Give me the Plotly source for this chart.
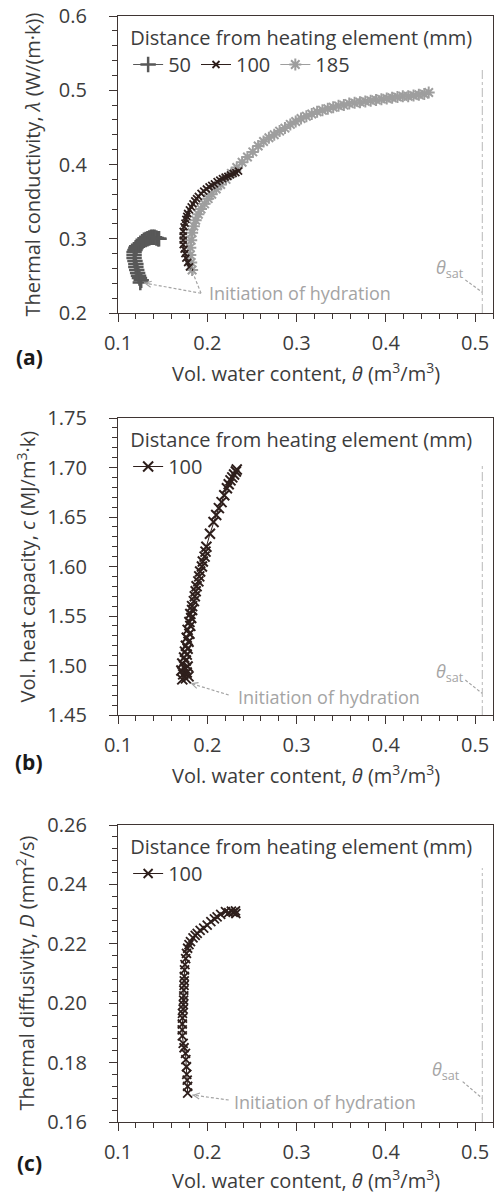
import plotly.graph_objects as go

# ---------------- data ----------------
# (a) thermal conductivity vs volumetric water content
theta_50 = [0.125, 0.126, 0.124, 0.123, 0.122, 0.121, 0.120, 0.120, 0.119, 0.118, 0.118, 0.118,
            0.119, 0.120, 0.121, 0.123, 0.125, 0.127, 0.129, 0.131, 0.133, 0.135, 0.137, 0.139,
            0.141, 0.143, 0.145, 0.146]
lam_50 = [0.241, 0.244, 0.247, 0.250, 0.254, 0.258, 0.262, 0.266, 0.270, 0.274, 0.278, 0.282,
          0.285, 0.288, 0.290, 0.292, 0.294, 0.296, 0.298, 0.299, 0.300, 0.301, 0.302, 0.302,
          0.302, 0.301, 0.300, 0.300]

theta_100a = [0.180, 0.178, 0.176, 0.175, 0.174, 0.173, 0.173, 0.173, 0.173, 0.174, 0.175, 0.176,
              0.177, 0.178, 0.180, 0.182, 0.184, 0.186, 0.188, 0.190, 0.193, 0.196, 0.199, 0.202,
              0.205, 0.208, 0.211, 0.214, 0.217, 0.220, 0.223, 0.226, 0.229, 0.232, 0.235]
lam_100a = [0.262, 0.268, 0.274, 0.280, 0.286, 0.292, 0.298, 0.304, 0.310, 0.316, 0.321, 0.326,
            0.330, 0.334, 0.339, 0.343, 0.347, 0.351, 0.354, 0.357, 0.361, 0.364, 0.367, 0.370,
            0.372, 0.374, 0.377, 0.379, 0.381, 0.383, 0.384, 0.386, 0.388, 0.389, 0.391]

theta_185 = [0.183, 0.182, 0.181, 0.181, 0.182, 0.183, 0.185, 0.187, 0.190, 0.193, 0.197, 0.201,
             0.205, 0.210, 0.215, 0.221, 0.227, 0.233, 0.239, 0.245, 0.251, 0.257, 0.263, 0.269,
             0.275, 0.281, 0.287, 0.293, 0.299, 0.305, 0.311, 0.317, 0.323, 0.329, 0.335, 0.341,
             0.347, 0.353, 0.359, 0.365, 0.371, 0.377, 0.383, 0.389, 0.395, 0.401, 0.407, 0.413,
             0.419, 0.425, 0.431, 0.437, 0.443, 0.448]
lam_185 = [0.258, 0.268, 0.278, 0.288, 0.298, 0.308, 0.317, 0.325, 0.333, 0.340, 0.347, 0.354,
           0.360, 0.367, 0.373, 0.380, 0.388, 0.396, 0.403, 0.410, 0.417, 0.425, 0.431, 0.436,
           0.440, 0.445, 0.449, 0.454, 0.458, 0.462, 0.465, 0.468, 0.471, 0.473, 0.475, 0.477,
           0.479, 0.480, 0.482, 0.483, 0.484, 0.485, 0.486, 0.487, 0.488, 0.489, 0.490, 0.491,
           0.492, 0.492, 0.493, 0.494, 0.495, 0.497]

# (b) volumetric heat capacity, 100 mm
theta_100b = [0.172, 0.176, 0.179, 0.173, 0.177, 0.171, 0.175, 0.178, 0.172, 0.176, 0.174, 0.177,
              0.175, 0.178, 0.176, 0.179, 0.177, 0.180, 0.178, 0.181, 0.180, 0.182, 0.181, 0.183,
              0.183, 0.185, 0.186, 0.187, 0.188, 0.190, 0.191, 0.192, 0.194, 0.195, 0.197, 0.198,
              0.199, 0.203, 0.207, 0.210, 0.213, 0.216, 0.219, 0.222, 0.224, 0.226, 0.228, 0.230,
              0.232, 0.233]
cap_100b = [1.486, 1.487, 1.489, 1.491, 1.493, 1.495, 1.497, 1.499, 1.502, 1.505, 1.508, 1.511,
            1.514, 1.517, 1.520, 1.524, 1.528, 1.532, 1.536, 1.540, 1.544, 1.548, 1.552, 1.556,
            1.560, 1.565, 1.570, 1.575, 1.580, 1.585, 1.590, 1.595, 1.600, 1.605, 1.610, 1.615,
            1.620, 1.633, 1.645, 1.652, 1.659, 1.665, 1.672, 1.679, 1.683, 1.687, 1.690, 1.693,
            1.696, 1.698]

# (c) thermal diffusivity, 100 mm
theta_100c = [0.178, 0.178, 0.1775, 0.177, 0.1767, 0.176, 0.1756, 0.174, 0.173, 0.172, 0.1719,
              0.172, 0.1722, 0.1722, 0.173, 0.1732, 0.1735, 0.1737, 0.1737, 0.174, 0.1742, 0.1743,
              0.1745, 0.175, 0.1758, 0.1767, 0.178, 0.1795, 0.1812, 0.184, 0.1865, 0.1887, 0.192,
              0.196, 0.1999, 0.204, 0.208, 0.211, 0.215, 0.2204, 0.224, 0.227, 0.229, 0.2316, 0.232]
diff_100c = [0.1697, 0.172, 0.1741, 0.176, 0.1786, 0.181, 0.1831, 0.185, 0.1865, 0.189, 0.191,
             0.193, 0.195, 0.1966, 0.198, 0.1995, 0.201, 0.2025, 0.2044, 0.206, 0.2075, 0.209,
             0.2112, 0.213, 0.215, 0.2168, 0.2185, 0.2197, 0.2207, 0.222, 0.2228, 0.2235, 0.2245,
             0.2253, 0.2263, 0.2275, 0.2284, 0.2291, 0.2299, 0.2308, 0.2305, 0.231, 0.2306,
             0.2311, 0.2302]

theta_sat = 0.508
x_ticks = [0.1, 0.2, 0.3, 0.4, 0.5]

# ---------------- styling ----------------
FONT = "Open Sans"
TXT = "#3c3c3c"
AX = "#3f3533"
C50, C100, C185 = "#585858", "#2e1f1c", "#9e9e9e"
ANN = "#a4a4a4"
W, H = 495, 1194
ML, MR = 118, 2
PW = W - ML - MR

# panel pixel boxes (top, bottom)
panels = [(16, 313), (418, 715), (825, 1122)]
def py(p):
    return 1 - p / H

fig = go.Figure()

fig.add_trace(go.Scatter(x=theta_50, y=lam_50, name="50", mode="lines+markers",
                         line=dict(color=C50, width=1),
                         marker=dict(symbol="cross-thin-open", size=11, line=dict(color=C50, width=2.5)),
                         xaxis="x", yaxis="y", legend="legend", legendrank=1))
fig.add_trace(go.Scatter(x=theta_185, y=lam_185, name="185", mode="lines+markers",
                         line=dict(color=C185, width=1),
                         marker=dict(symbol="asterisk-open", size=10, line=dict(color=C185, width=2)),
                         xaxis="x", yaxis="y", legend="legend", legendrank=3))
fig.add_trace(go.Scatter(x=theta_100a, y=lam_100a, name="100", mode="lines+markers",
                         line=dict(color=C100, width=1),
                         marker=dict(symbol="x-thin-open", size=7, line=dict(color=C100, width=1.8)),
                         xaxis="x", yaxis="y", legend="legend", legendrank=2))
fig.add_trace(go.Scatter(x=theta_100b, y=cap_100b, name="100", mode="lines+markers",
                         line=dict(color=C100, width=1),
                         marker=dict(symbol="x-thin-open", size=10, line=dict(color=C100, width=2)),
                         xaxis="x2", yaxis="y2", legend="legend2"))
fig.add_trace(go.Scatter(x=theta_100c, y=diff_100c, name="100", mode="lines+markers",
                         line=dict(color=C100, width=1),
                         marker=dict(symbol="x-thin-open", size=9, line=dict(color=C100, width=1.8)),
                         xaxis="x3", yaxis="y3", legend="legend3"))

yranges = [[0.2, 0.6], [1.45, 1.75], [0.16, 0.26]]
ydticks = [0.1, 0.05, 0.02]
yminor = [0.02, 0.01, 0.004]
yfmt = [".1f", ".2f", ".2f"]
ytitles = ["Thermal conductivity, <i>λ</i> (W/(m·k))",
           "Vol. heat capacity, <i>c</i> (MJ/m<sup>3</sup>·k)",
           "Thermal diffusivity, <i>D</i> (mm<sup>2</sup>/s)"]
ytitle_x = [32, 26, 25]
labels = ["(a)", "(b)", "(c)"]
label_y = [357, 762, 1163]
xtitle_y = [373, 774, 1179]
sat_top = [0.528, 1.7025, 0.2455]

common_ax = dict(showline=True, linecolor=AX, linewidth=1.3, mirror=True, showgrid=False,
                 zeroline=False, ticks="outside", tickcolor=AX, ticklen=8, tickwidth=1.3,
                 tickfont=dict(family=FONT, size=20, color=TXT), automargin=False)

annotations = []
shapes = []

def arrow(xr, yr, tail, tip, frac=0.12):
    shapes.append(dict(type="line", xref=xr, yref=yr, x0=tail[0], y0=tail[1], x1=tip[0], y1=tip[1],
                       line=dict(color=ANN, width=1.2, dash="3px,2px")))
    annotations.append(dict(xref=xr, yref=yr, axref=xr, ayref=yr, x=tip[0], y=tip[1],
                            ax=tip[0] + (tail[0] - tip[0]) * frac, ay=tip[1] + (tail[1] - tip[1]) * frac,
                            text="", showarrow=True, arrowhead=5, arrowsize=1.2, arrowwidth=1,
                            arrowcolor=ANN))

for i in range(3):
    sfx = "" if i == 0 else str(i + 1)
    top, bot = panels[i]
    fig.layout["xaxis" + sfx] = dict(common_ax, range=[0.1, 0.52], tickvals=x_ticks, tickformat=".1f",
                                     anchor="y" + sfx, domain=[0, 1], ticklabelstandoff=4,
                                     minor=dict(dtick=0.02, tick0=0.1, ticks="outside", ticklen=5,
                                                tickcolor=AX, tickwidth=1.3))
    fig.layout["yaxis" + sfx] = dict(common_ax, range=yranges[i], dtick=ydticks[i], tick0=yranges[i][0],
                                     tickformat=yfmt[i], anchor="x" + sfx, domain=[py(bot), py(top)],
                                     ticklabelstandoff=18,
                                     minor=dict(dtick=yminor[i], tick0=yranges[i][0], ticks="outside",
                                                ticklen=5, tickcolor=AX, tickwidth=1.3))
    # axis titles
    annotations.append(dict(xref="paper", yref="paper", x=(ytitle_x[i] - ML) / PW,
                            y=py((top + bot) / 2), text=ytitles[i], textangle=-90, showarrow=False,
                            xanchor="center", yanchor="middle",
                            font=dict(family=FONT, size=20, color=TXT)))
    annotations.append(dict(xref="paper", yref="paper", x=0.5, y=py(xtitle_y[i]),
                            text="Vol. water content, <i>θ</i> (m<sup>3</sup>/m<sup>3</sup>)",
                            showarrow=False, xanchor="center", yanchor="middle",
                            font=dict(family=FONT, size=20, color=TXT)))
    annotations.append(dict(xref="paper", yref="paper", x=(29 - ML) / PW, y=py(label_y[i]),
                            text="<b>" + labels[i] + "</b>", showarrow=False, xanchor="center",
                            yanchor="middle", font=dict(family=FONT, size=21, color="#1a1a1a")))
    # saturation line
    shapes.append(dict(type="line", xref="x" + sfx, yref="y" + sfx, x0=theta_sat, x1=theta_sat,
                       y0=yranges[i][0], y1=sat_top[i], line=dict(color="#b8b8b8", width=1, dash="dashdot")))

# annotation text + arrows
ann_font = dict(family=FONT, size=18, color=ANN)
# (a)
annotations.append(dict(xref="x", yref="y", x=0.200, y=0.2266, text="Initiation of hydration",
                        showarrow=False, xanchor="left", yanchor="middle", font=ann_font))
arrow("x", "y", (0.193, 0.2266), (0.129, 0.2405))
arrow("x", "y", (0.193, 0.2266), (0.181, 0.2625))
annotations.append(dict(xref="x", yref="y", x=0.4895, y=0.2605, text="<i>θ</i><sub>sat</sub>",
                        showarrow=False, xanchor="right", yanchor="middle", font=ann_font))
arrow("x", "y", (0.489, 0.2446), (0.5078, 0.228))
# (b)
annotations.append(dict(xref="x2", yref="y2", x=0.2316, y=1.4685, text="Initiation of hydration",
                        showarrow=False, xanchor="left", yanchor="middle", font=ann_font))
arrow("x2", "y2", (0.224, 1.4702), (0.1812, 1.482))
annotations.append(dict(xref="x2", yref="y2", x=0.4895, y=1.4925, text="<i>θ</i><sub>sat</sub>",
                        showarrow=False, xanchor="right", yanchor="middle", font=ann_font))
arrow("x2", "y2", (0.489, 1.4853), (0.5078, 1.4719))
# (c)
annotations.append(dict(xref="x3", yref="y3", x=0.4855, y=0.1772, text="<i>θ</i><sub>sat</sub>",
                        showarrow=False, xanchor="right", yanchor="middle", font=ann_font))
annotations.append(dict(xref="x3", yref="y3", x=0.2279, y=0.1668, text="Initiation of hydration",
                        showarrow=False, xanchor="left", yanchor="middle", font=ann_font))
arrow("x3", "y3", (0.224, 0.1674), (0.1831, 0.1691))
arrow("x3", "y3", (0.486, 0.1736), (0.5078, 0.168))

leg_common = dict(orientation="h", xanchor="left", yanchor="top", bgcolor="rgba(0,0,0,0)",
                  font=dict(family=FONT, size=20, color=TXT), itemwidth=30, tracegroupgap=0,
                  title=dict(text="Distance from heating element (mm)", side="top",
                             font=dict(family=FONT, size=20, color=TXT)))
fig.update_layout(
    width=W, height=H, margin=dict(l=ML, r=MR, t=0, b=0, autoexpand=False),
    paper_bgcolor="white", plot_bgcolor="white",
    font=dict(family=FONT, size=20, color=TXT),
    legend=dict(leg_common, x=0.027, y=py(panels[0][0] + 3)),
    legend2=dict(leg_common, x=0.027, y=py(panels[1][0] + 3)),
    legend3=dict(leg_common, x=0.027, y=py(panels[2][0] + 3)),
    annotations=annotations, shapes=shapes,
)

fig.write_html("out.html")
